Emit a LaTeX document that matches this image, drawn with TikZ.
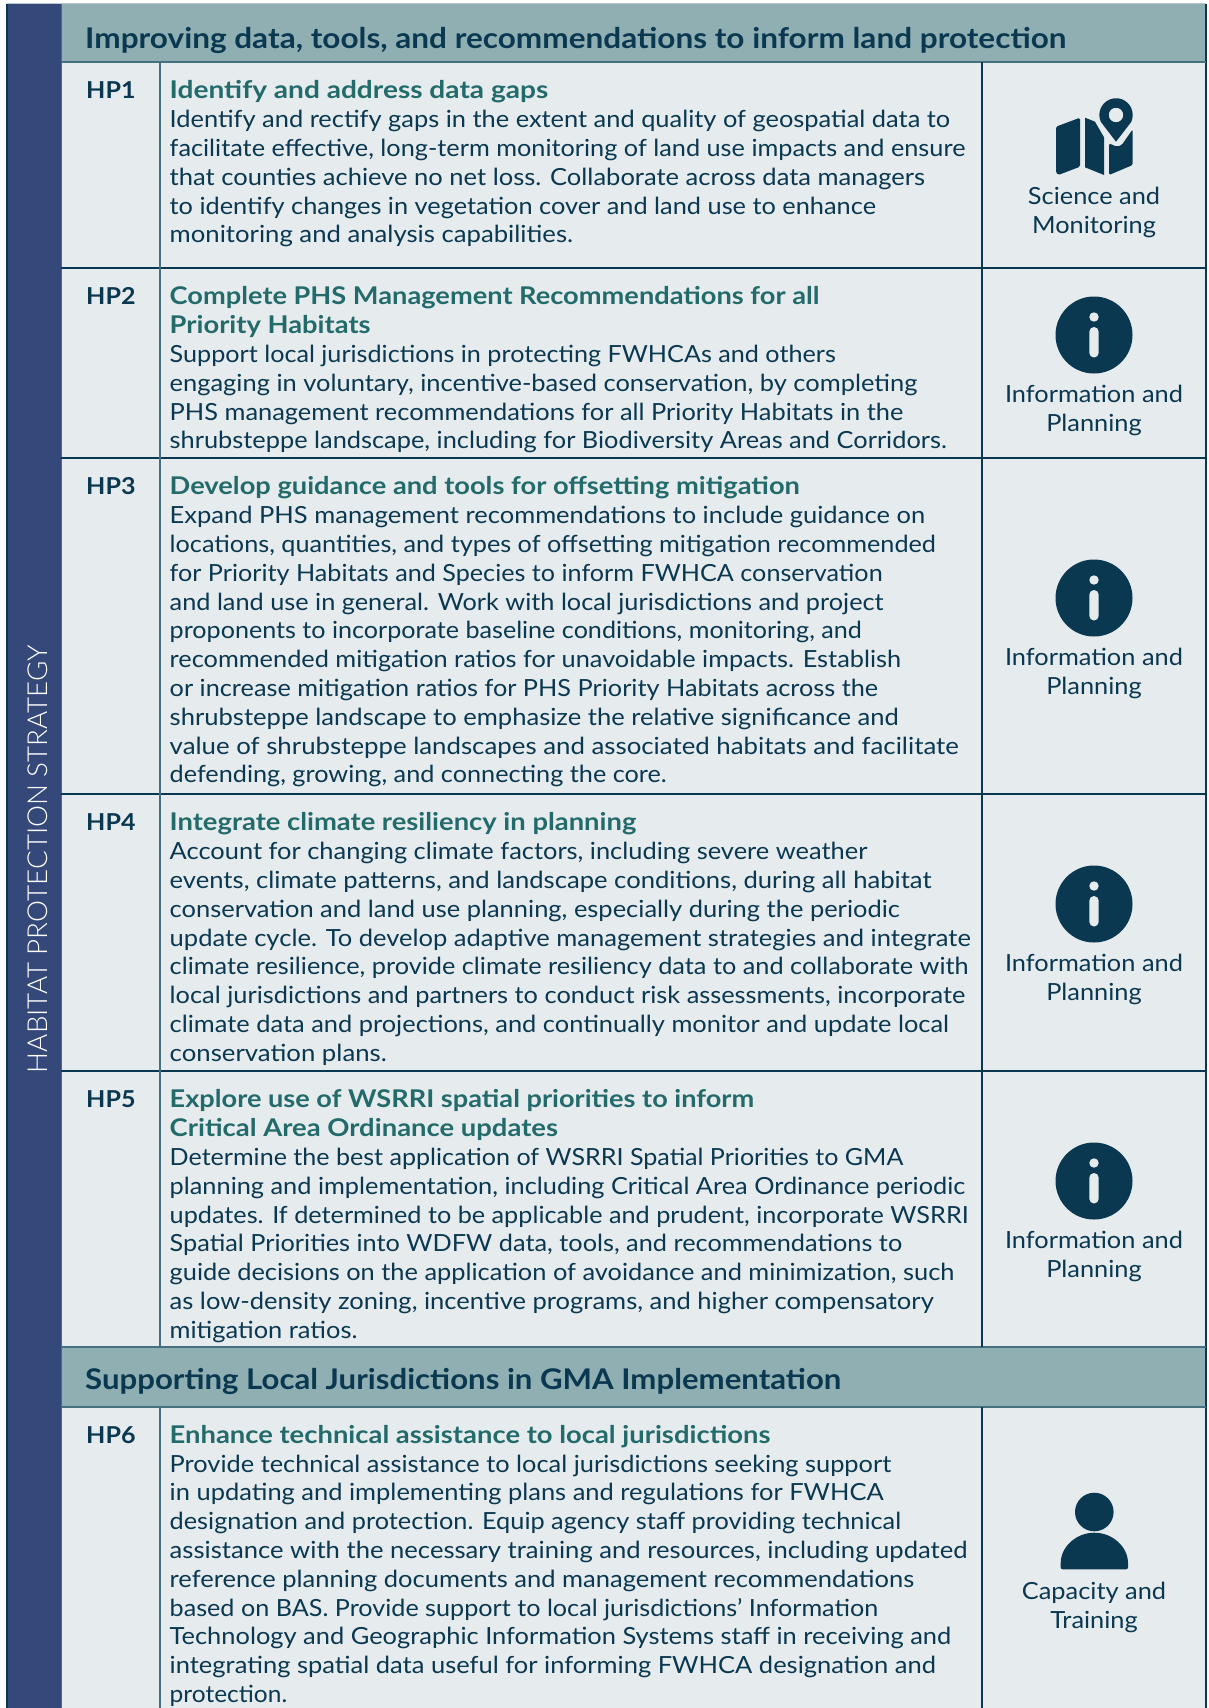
\documentclass[tikz,border=0pt]{standalone}
\usepackage{fontspec}
\usepackage{graphicx}
\setmainfont[FakeStretch=1.075]{Lato}
\newfontfamily\sidefont[FakeStretch=1.0]{Lato Light}
\definecolor{ink}{HTML}{0A3850}
\definecolor{softline}{HTML}{44707F}
\definecolor{topline}{HTML}{B5C8CC}
\definecolor{sidebar}{HTML}{34497A}
\definecolor{headbg}{HTML}{8FAFB2}
\definecolor{cellbg}{HTML}{E6EBEE}
\definecolor{titlegreen}{HTML}{236B6B}
\newcommand{\bodyf}{\fontsize{23.6}{28.8}\selectfont}
\newlength{\linew}
\newcommand{\fl}[2]{\setlength{\linew}{\dimexpr #1pt*10893/10000-169.5pt\relax}\resizebox{\linew}{\height}{#2}}
\newcommand{\ft}[2]{\fl{#1}{\color{titlegreen}\fontsize{24.4}{28.8}\selectfont\bfseries #2}}
\newcommand{\first}{\rule{0pt}{20pt}}
\tikzset{
  x=1pt,y=-1pt,
  grid/.style={draw=ink,line width=1.1pt},
  softgrid/.style={draw=softline,line width=1.5pt},
  headtext/.style={anchor=base west,inner sep=0pt,text=ink,font=\fontsize{28.5}{30}\selectfont\bfseries},
  hplabel/.style={anchor=base west,inner sep=0pt,text=ink,font=\fontsize{23.3}{28.8}\selectfont\bfseries},
  bodytext/.style={anchor=north west,inner sep=0pt,text=ink,align=left,font=\bodyf},
  typelabel/.style={anchor=north,inner sep=0pt,text=ink,align=center,font=\bodyf},
}
\newcommand{\infoicon}[2]{% center y, name
  \fill[ink] (1094,#1) circle (38.5);
  \fill[cellbg] (1094,#1-18) circle (4.7);
  \fill[cellbg,rounded corners=4.7pt] (1089.3,#1-8) rectangle (1098.7,#1+22.5);
  \node[typelabel] (#2) at (1094,#1+47) {\first Information and\\Planning};
}
\begin{document}
\begin{tikzpicture}
\useasboundingbox (0,0) rectangle (1208,1708);
\fill[white] (0,0) rectangle (1208,1708);
% backgrounds
\fill[cellbg] (61,4) rectangle (1206,1708);
\fill[headbg] (61,4) rectangle (1206,62);
\fill[headbg] (61,1347) rectangle (1206,1407);
\fill[sidebar] (7,4) rectangle (61,1708);
% grid
\draw[draw=topline,line width=1.2pt] (7,3.6) -- (1206,3.6);
\draw[grid] (7,4) -- (7,1708);
\draw[softgrid,line width=1pt] (61,4) -- (61,1708);
\draw[grid,line width=1.4pt] (1206,4) -- (1206,1708);
\draw[softgrid] (61,62) -- (1206,62);
\draw[grid] (61,268) -- (1206,268);
\draw[grid] (61,458) -- (1206,458);
\draw[grid] (61,794) -- (1206,794);
\draw[grid] (61,1071) -- (1206,1071);
\draw[softgrid] (61,1347) -- (1206,1347);
\draw[softgrid] (61,1407) -- (1206,1407);
\draw[softgrid] (160,62) -- (160,1347);
\draw[softgrid] (160,1407) -- (160,1708);
\draw[grid] (982,62) -- (982,1347);
\draw[grid] (982,1407) -- (982,1708);
% sidebar
\node[rotate=90,anchor=base,inner sep=0pt,text=white,font=\fontsize{27.5}{30}\selectfont\sidefont] (side) at (47.7,859) {\resizebox{428pt}{\height}{HABITAT PROTECTION STRATEGY}};
% headers
\node[headtext] (h1) at (85,48) {\resizebox{981pt}{\height}{Improving data, tools, and recommendations to inform land protection}};
\node[headtext] (h2) at (85,1389) {\resizebox{756pt}{\height}{Supporting Local Jurisdictions in GMA Implementation}};
% labels
\node[hplabel] (hp1) at (86,98) {HP1};
\node[hplabel] (hp2) at (86,304) {HP2};
\node[hplabel] (hp3) at (86,494) {HP3};
\node[hplabel] (hp4) at (86,830) {HP4};
\node[hplabel] (hp5) at (86,1107) {HP5};
\node[hplabel] (hp6) at (86,1443) {HP6};
% bodies
\node[bodytext] (b1) at (169.5,78.7) {\first\ft{503}{Identify and address data gaps}\\
\fl{872}{Identify and rectify gaps in the extent and quality of geospatial data to}\\
\fl{886}{facilitate effective, long-term monitoring of land use impacts and ensure}\\
\fl{849}{that counties achieve no net loss. Collaborate across data managers}\\
\fl{804}{to identify changes in vegetation cover and land use to enhance}\\
\fl{526}{monitoring and analysis capabilities.}};
\node[bodytext] (b2) at (169.5,284.7) {\first\ft{752}{Complete PHS Management Recommendations for all}\\
\ft{340}{Priority Habitats}\\
\fl{767}{Support local jurisdictions in protecting FWHCAs and others}\\
\fl{842}{engaging in voluntary, incentive-based conservation, by completing}\\
\fl{829}{PHS management recommendations for all Priority Habitats in the}\\
\fl{869}{shrubsteppe landscape, including for Biodiversity Areas and Corridors.}};
\node[bodytext] (b3) at (169.5,474.7) {\first\ft{734}{Develop guidance and tools for offsetting mitigation}\\
\fl{849}{Expand PHS management recommendations to include guidance on}\\
\fl{859}{locations, quantities, and types of offsetting mitigation recommended}\\
\fl{810}{for Priority Habitats and Species to inform FWHCA conservation}\\
\fl{811}{and land use in general. Work with local jurisdictions and project}\\
\fl{791}{proponents to incorporate baseline conditions, monitoring, and}\\
\fl{827}{recommended mitigation ratios for unavoidable impacts. Establish}\\
\fl{806}{or increase mitigation ratios for PHS Priority Habitats across the}\\
\fl{825}{shrubsteppe landscape to emphasize the relative significance and}\\
\fl{880}{value of shrubsteppe landscapes and associated habitats and facilitate}\\
\fl{612}{defending, growing, and connecting the core.}};
\node[bodytext] (b4) at (169.5,810.7) {\first\ft{584}{Integrate climate resiliency in planning}\\
\fl{796}{Account for changing climate factors, including severe weather}\\
\fl{855}{events, climate patterns, and landscape conditions, during all habitat}\\
\fl{826}{conservation and land use planning, especially during the periodic}\\
\fl{891}{update cycle. To develop adaptive management strategies and integrate}\\
\fl{889}{climate resilience, provide climate resiliency data to and collaborate with}\\
\fl{886}{local jurisdictions and partners to conduct risk assessments, incorporate}\\
\fl{871}{climate data and projections, and continually monitor and update local}\\
\fl{355}{conservation plans.}};
\node[bodytext] (b5) at (169.5,1087.7) {\first\ft{692}{Explore use of WSRRI spatial priorities to inform}\\
\ft{512}{Critical Area Ordinance updates}\\
\fl{829}{Determine the best application of WSRRI Spatial Priorities to GMA}\\
\fl{886}{planning and implementation, including Critical Area Ordinance periodic}\\
\fl{889}{updates. If determined to be applicable and prudent, incorporate WSRRI}\\
\fl{828}{Spatial Priorities into WDFW data, tools, and recommendations to}\\
\fl{876}{guide decisions on the application of avoidance and minimization, such}\\
\fl{857}{as low-density zoning, incentive programs, and higher compensatory}\\
\fl{328}{mitigation ratios.}};
\node[bodytext] (b6) at (169.5,1423) {\first\ft{707}{Enhance technical assistance to local jurisdictions}\\
\fl{818}{Provide technical assistance to local jurisdictions seeking support}\\
\fl{811}{in updating and implementing plans and regulations for FWHCA}\\
\fl{827}{designation and protection. Equip agency staff providing technical}\\
\fl{888}{assistance with the necessary training and resources, including updated}\\
\fl{839}{reference planning documents and management recommendations}\\
\fl{806}{based on BAS. Provide support to local jurisdictions’ Information}\\
\fl{873}{Technology and Geographic Information Systems staff in receiving and}\\
\fl{859}{integrating spatial data useful for informing FWHCA designation and}\\
\fl{263.5}{protection.}};
% map icon
\fill[ink,rounded corners=1.5pt] (1056,126.7) -- (1080,117.7) -- (1080,166.7) -- (1058.3,175) -- (1056,172.7) -- cycle;
\fill[ink] (1085,117.7) -- (1095,121.7) -- (1104,137.3) -- (1104,175) -- (1085,167.3) -- cycle;
\fill[ink,rounded corners=1.5pt] (1109,143.3) -- (1116.7,146.7) -- (1121.7,145) -- (1132.7,129.3) -- (1132.7,165) -- (1109,175) -- cycle;
\fill[ink,even odd rule] (1116,141.7) -- (1100.9,122) arc[start angle=205,end angle=-25,radius=16.7pt] -- cycle (1116,115) circle (7.3);
\node[typelabel] (t1) at (1094,184.7) {\first Science and\\Monitoring};
% info icons
\infoicon{335}{t2}
\infoicon{598}{t3}
\infoicon{904}{t4}
\infoicon{1181}{t5}
% person icon
\fill[ink] (1094.3,1512) circle (19.3);
\fill[ink,rounded corners=2pt] (1060.7,1569.3) -- (1060.7,1565) arc[start angle=180,end angle=0,x radius=33.65pt,y radius=32.3pt] -- (1128,1569.3) -- cycle;
\node[typelabel] (t6) at (1094,1579) {\first Capacity and\\Training};
\end{tikzpicture}
\end{document}
